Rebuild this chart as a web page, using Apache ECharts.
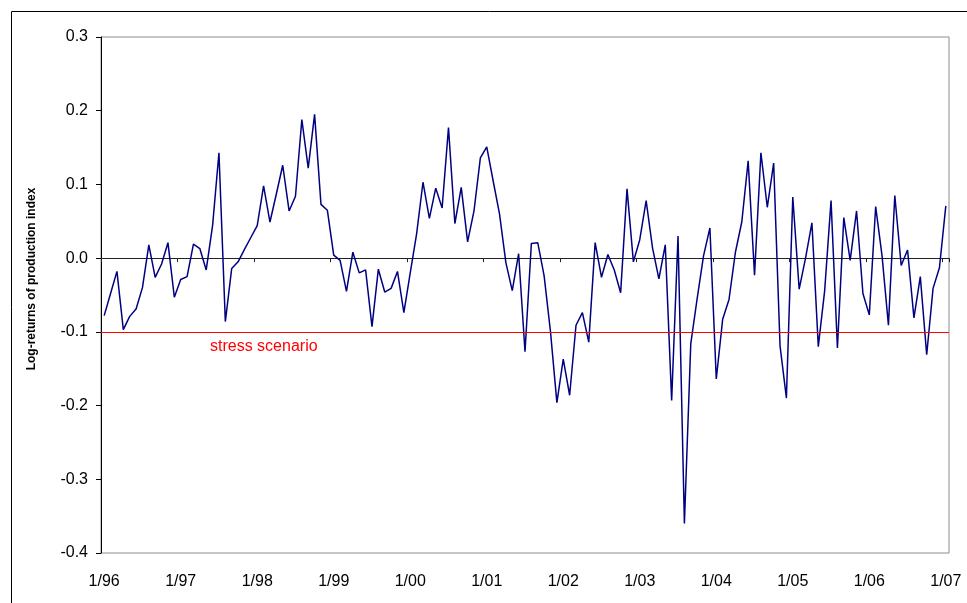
<!DOCTYPE html>
<html>
<head>
<meta charset="utf-8">
<script src="https://cdn.jsdelivr.net/npm/echarts@6/dist/echarts.min.js"></script>
<style>
  html, body { margin: 0; padding: 0; background: #fff; }
  #myChart { width: 967px; height: 603px; }
</style>
</head>
<body>
<div id="myChart"></div>
<script>
// monthly log-returns of the production index, Jan..Dec for each year
var r1996 = [-0.078, -0.048, -0.018, -0.097, -0.079, -0.069, -0.040, 0.018, -0.026, -0.008, 0.021, -0.053];
var r1997 = [-0.029, -0.025, 0.019, 0.013, -0.016, 0.044, 0.143, -0.086, -0.014, -0.005, 0.012, 0.028];
var r1998 = [0.044, 0.098, 0.049, 0.087, 0.126, 0.064, 0.084, 0.188, 0.122, 0.195, 0.073, 0.065];
var r1999 = [0.004, -0.003, -0.045, 0.008, -0.020, -0.016, -0.093, -0.015, -0.046, -0.041, -0.018, -0.074];
var r2000 = [-0.020, 0.033, 0.103, 0.054, 0.095, 0.068, 0.177, 0.047, 0.096, 0.022, 0.064, 0.136];
var r2001 = [0.151, 0.105, 0.060, -0.006, -0.044, 0.006, -0.127, 0.020, 0.021, -0.024, -0.100, -0.196];
var r2002 = [-0.137, -0.186, -0.091, -0.074, -0.114, 0.021, -0.026, 0.005, -0.016, -0.047, 0.094, -0.005];
var r2003 = [0.025, 0.078, 0.014, -0.028, 0.018, -0.193, 0.030, -0.360, -0.116, -0.055, 0.003, 0.041];
var r2004 = [-0.164, -0.083, -0.056, 0.008, 0.049, 0.132, -0.023, 0.143, 0.069, 0.129, -0.119, -0.190];
var r2005 = [0.083, -0.042, 0.000, 0.048, -0.120, -0.044, 0.078, -0.122, 0.055, -0.003, 0.064, -0.048];
var r2006 = [-0.077, 0.070, 0.003, -0.091, 0.085, -0.010, 0.011, -0.081, -0.025, -0.131, -0.041, -0.013];
var r2007 = [0.071];

var years = ['96', '97', '98', '99', '00', '01', '02', '03', '04', '05', '06', '07'];
var yearData = [r1996, r1997, r1998, r1999, r2000, r2001, r2002, r2003, r2004, r2005, r2006, r2007];
var stressLevel = -0.1;

var months = [];
var values = [];
yearData.forEach(function (arr, i) {
  arr.forEach(function (v, m) {
    months.push((m + 1) + '/' + years[i]);
    values.push(v);
  });
});

var font = "'Liberation Sans', Arial, sans-serif";
var myChart = echarts.init(document.getElementById('myChart'));
myChart.setOption({
  animation: false,
  backgroundColor: '#fff',
  grid: {
    left: 101, right: 18, top: 37, bottom: 50,
    show: true, borderColor: '#8c8c8c', borderWidth: 1
  },
  xAxis: [
    {
      type: 'category',
      data: months,
      position: 'bottom',
      boundaryGap: true,
      axisLine: { show: false, onZero: false },
      axisTick: { show: false },
      splitLine: { show: false },
      axisLabel: { interval: 11, margin: 21, fontSize: 16, color: '#000', fontFamily: font }
    },
    {
      type: 'category',
      data: months,
      position: 'top',
      boundaryGap: true,
      axisLine: { show: true, onZero: true, lineStyle: { color: '#222', width: 1 } },
      axisTick: { show: true, interval: 11, inside: true, length: 4, lineStyle: { color: '#222' } },
      axisLabel: { show: false },
      splitLine: { show: false }
    }
  ],
  yAxis: {
    type: 'value',
    min: -0.4,
    max: 0.3,
    interval: 0.1,
    axisLine: { show: true, lineStyle: { color: '#000', width: 1 } },
    axisTick: { show: true, length: 5, lineStyle: { color: '#000' } },
    splitLine: { show: false },
    axisLabel: {
      margin: 13, fontSize: 16, color: '#000', fontFamily: font,
      formatter: function (v) { return Math.abs(v) < 1e-9 ? '0.0' : v.toFixed(1); }
    }
  },
  series: [
    {
      type: 'line',
      xAxisIndex: 0,
      data: values,
      symbol: 'none',
      lineStyle: { color: '#000080', width: 1.5 },
      markLine: {
        silent: true,
        symbol: 'none',
        label: { show: false },
        lineStyle: { color: '#ff0000', width: 1, type: 'solid' },
        data: [{ yAxis: stressLevel }]
      }
    }
  ],
  graphic: [
    {
      type: 'rect',
      shape: { x: 11.5, y: 11.5, width: 1000, height: 1000 },
      style: { fill: 'none', stroke: '#000', lineWidth: 1 },
      silent: true
    },
    {
      type: 'text',
      x: 210, y: 347,
      style: { text: 'stress scenario', fill: '#ff0000', font: '16px ' + font, textVerticalAlign: 'middle' }
    },
    {
      type: 'text',
      x: 32, y: 279,
      rotation: Math.PI / 2,
      style: {
        text: 'Log-returns of production index', fill: '#000',
        font: 'bold 12px ' + font, textAlign: 'center', textVerticalAlign: 'middle'
      }
    }
  ]
});
</script>
</body>
</html>
